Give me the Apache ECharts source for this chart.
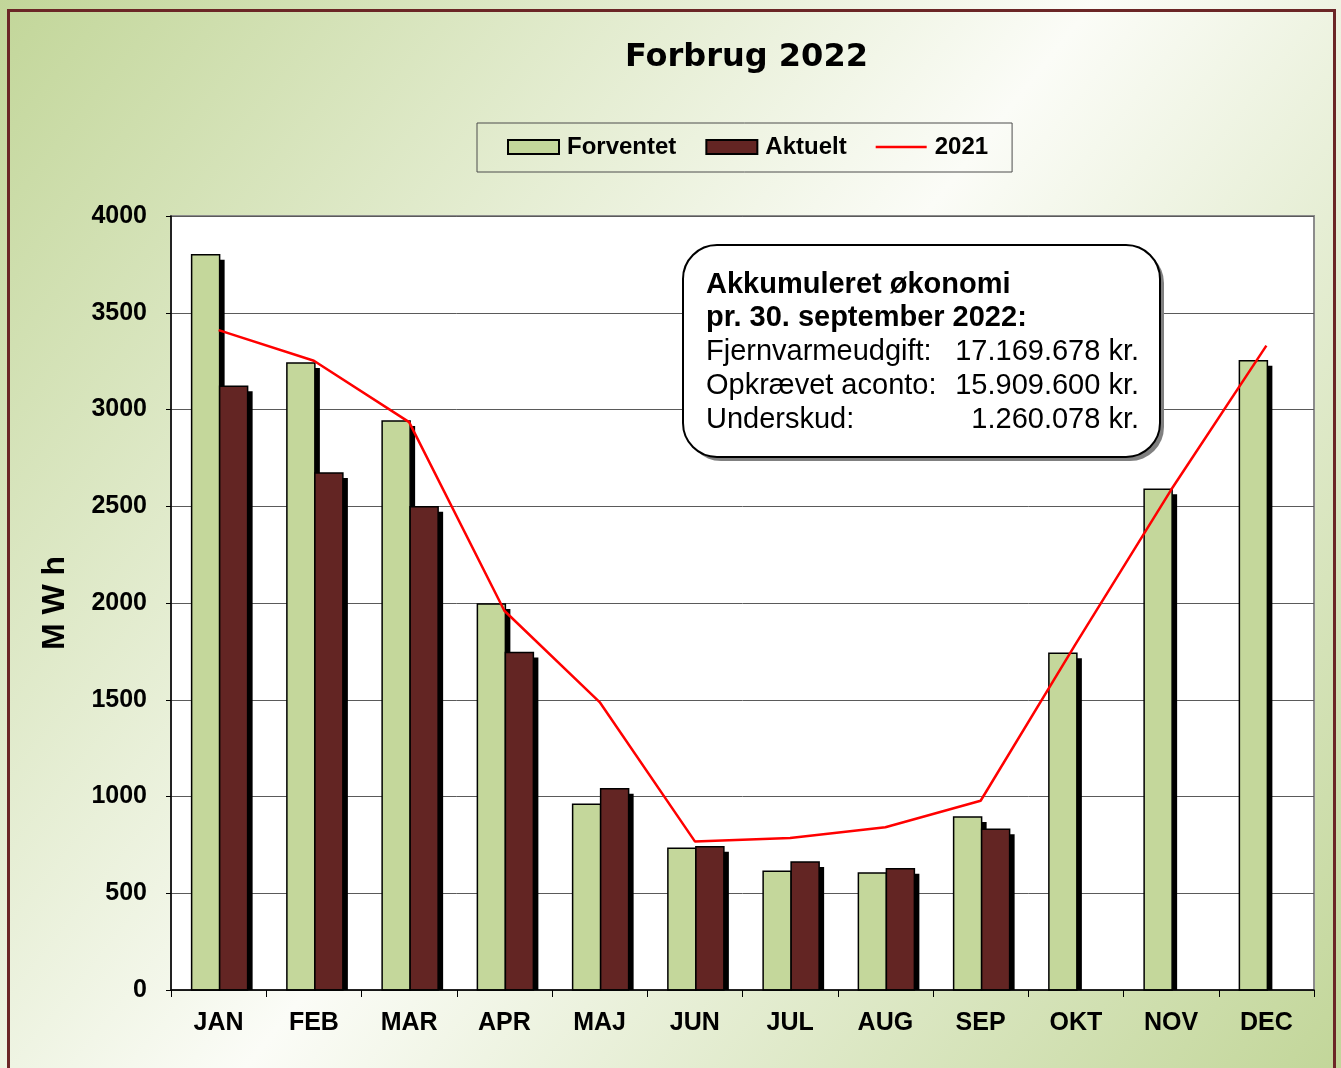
<!DOCTYPE html>
<html>
<head>
<meta charset="utf-8">
<title>Forbrug 2022</title>
<script src="https://cdn.jsdelivr.net/npm/echarts@6/dist/echarts.min.js"></script>
<style>
  html, body { margin: 0; padding: 0; background: #fff; }
  #chart { width: 1341px; height: 1068px; }
</style>
</head>
<body>
<div id="chart"></div>
<script>
// data (MWh)
const months = ['JAN', 'FEB', 'MAR', 'APR', 'MAJ', 'JUN', 'JUL', 'AUG', 'SEP', 'OKT', 'NOV', 'DEC'];
const forventet = [3800, 3240, 2940, 1995, 960, 732, 614, 605, 894, 1740, 2588, 3252];
const aktuelt = [3120, 2672, 2497, 1744, 1040, 740, 662, 626, 831, null, null, null];
const forbrug2021 = [3410, 3252, 2935, 1960, 1488, 768, 785, 841, 978, 1790, 2585, 3330];
const yMin = 0;
const yMax = 4000;
const yStep = 500;

// text in the box
const noteTitle = ['Akkumuleret økonomi', 'pr. 30. september 2022:'];
const noteLabels = ['Fjernvarmeudgift:', 'Opkrævet aconto:', 'Underskud:'];
const noteValues = ['17.169.678 kr.', '15.909.600 kr.', '1.260.078 kr.'];

const chart = echarts.init(document.getElementById('chart'));
const W = chart.getWidth();
const H = chart.getHeight();

const font = 'Liberation Sans, Arial, sans-serif';
const green = '#c4d79b';
const darkRed = '#632523';
const barW = 28;

const bgFill = () => new echarts.graphic.LinearGradient(0, 0, W, H, [
  { offset: 0, color: '#c2d699' },
  { offset: 0.5, color: '#fbfcf7' },
  { offset: 1, color: '#c2d699' }
], true);

// bar with a hard black drop shadow, like the old excel 3d look
const shadowBar = (color, offset) => (params, api) => {
  const v = api.value(1);
  if (v == null || isNaN(v)) return;
  const top = api.coord([api.value(0), v]);
  const base = api.coord([api.value(0), 0]);
  const x = top[0] + offset;
  const h = base[1] - top[1];
  return {
    type: 'group',
    children: [
      { type: 'rect', shape: { x: x + 5, y: top[1] + 5, width: barW, height: Math.max(h - 5, 0) }, style: { fill: '#000' } },
      { type: 'rect', shape: { x: x, y: top[1], width: barW, height: h }, style: { fill: color, stroke: '#000', lineWidth: 1.5 } }
    ]
  };
};

const noteText = [];
noteTitle.forEach((t, i) => {
  noteText.push({
    type: 'text', z: 21, x: 706, y: 284.5 + i * 33.8,
    style: { text: t, font: 'bold 29px ' + font, fill: '#000', align: 'left', verticalAlign: 'middle' }
  });
});
noteLabels.forEach((t, i) => {
  const y = 284.5 + (i + 2) * 33.8;
  noteText.push({
    type: 'text', z: 21, x: 706, y: y,
    style: { text: t, font: '29px ' + font, fill: '#000', align: 'left', verticalAlign: 'middle' }
  });
  noteText.push({
    type: 'text', z: 21, x: 1139, y: y,
    style: { text: noteValues[i], font: '29px ' + font, fill: '#000', align: 'right', verticalAlign: 'middle' }
  });
});

chart.setOption({
  animation: false,
  title: {
    text: 'Forbrug 2022',
    left: 625,
    top: 42,
    padding: 0,
    textStyle: { fontFamily: 'DejaVu Sans', fontWeight: 'bold', fontSize: 32, color: '#000' }
  },
  legend: {
    left: 477,
    top: 123,
    padding: [12, 24, 13, 30],
    itemGap: 29,
    itemWidth: 51,
    itemHeight: 14,
    borderColor: '#4d4d4d',
    borderWidth: 1,
    textStyle: { fontFamily: font, fontWeight: 'bold', fontSize: 24, color: '#000', padding: [0, 0, 0, 3] },
    data: [
      { name: 'Forventet', icon: 'rect', itemStyle: { color: green, borderColor: '#000', borderWidth: 2 } },
      { name: 'Aktuelt', icon: 'rect', itemStyle: { color: darkRed, borderColor: '#000', borderWidth: 2 } },
      { name: '2021', icon: 'path://M0,0 H60 V3 H0 Z', itemStyle: { color: '#ff0000', borderWidth: 0 } }
    ]
  },
  grid: {
    left: 171,
    right: 27,
    top: 216,
    bottom: 78,
    show: true,
    backgroundColor: '#fff',
    borderColor: '#8c8c8c',
    borderWidth: 2
  },
  xAxis: {
    type: 'category',
    data: months,
    z: 10,
    axisLine: { lineStyle: { color: '#000', width: 1.5 } },
    axisTick: { show: true, length: 7, lineStyle: { color: '#000', width: 1 } },
    axisLabel: { margin: 21, fontFamily: font, fontWeight: 'bold', fontSize: 25, color: '#000' },
    splitLine: { show: false }
  },
  yAxis: {
    type: 'value',
    min: yMin,
    max: yMax,
    interval: yStep,
    name: 'M W h',
    nameLocation: 'middle',
    nameGap: 100,
    nameTextStyle: { fontFamily: font, fontWeight: 'bold', fontSize: 32, color: '#000' },
    axisLine: { show: true, lineStyle: { color: '#000', width: 1.5 } },
    axisTick: { show: true, length: 5, lineStyle: { color: '#000', width: 1 } },
    axisLabel: { margin: 24, fontFamily: font, fontWeight: 'bold', fontSize: 25, color: '#000', formatter: v => String(v) },
    splitLine: { show: true, lineStyle: { color: '#5a5a5a', width: 1 } }
  },
  series: [
    {
      name: 'Forventet',
      type: 'custom',
      data: forventet.map((v, i) => [i, v]),
      encode: { x: 0, y: 1 },
      itemStyle: { color: green },
      renderItem: shadowBar(green, -27)
    },
    {
      name: 'Aktuelt',
      type: 'custom',
      data: aktuelt.map((v, i) => [i, v]),
      encode: { x: 0, y: 1 },
      itemStyle: { color: darkRed },
      renderItem: shadowBar(darkRed, 1)
    },
    {
      name: '2021',
      type: 'line',
      data: forbrug2021,
      symbol: 'none',
      z: 4,
      emphasis: { disabled: true },
      lineStyle: { color: '#ff0000', width: 2.5 },
      itemStyle: { color: '#ff0000' }
    }
  ],
  graphic: [
    // page background
    { type: 'rect', z: -10, silent: true, shape: { x: 0, y: 0, width: W, height: H }, style: { fill: bgFill() } },
    // frame
    { type: 'rect', z: 20, silent: true, shape: { x: 8.5, y: 10.5, width: 1326, height: 1100 },
      style: { fill: 'none', stroke: '#6b2626', lineWidth: 3 } },
    // note box + its gray shadow
    { type: 'rect', z: 19, silent: true, shape: { x: 687, y: 249, width: 477, height: 212, r: 34 },
      style: { fill: '#808080' } },
    { type: 'rect', z: 20, silent: true, shape: { x: 683, y: 245, width: 477, height: 212, r: 34 },
      style: { fill: '#fff', stroke: '#000', lineWidth: 2 } }
  ].concat(noteText)
});
</script>
</body>
</html>
